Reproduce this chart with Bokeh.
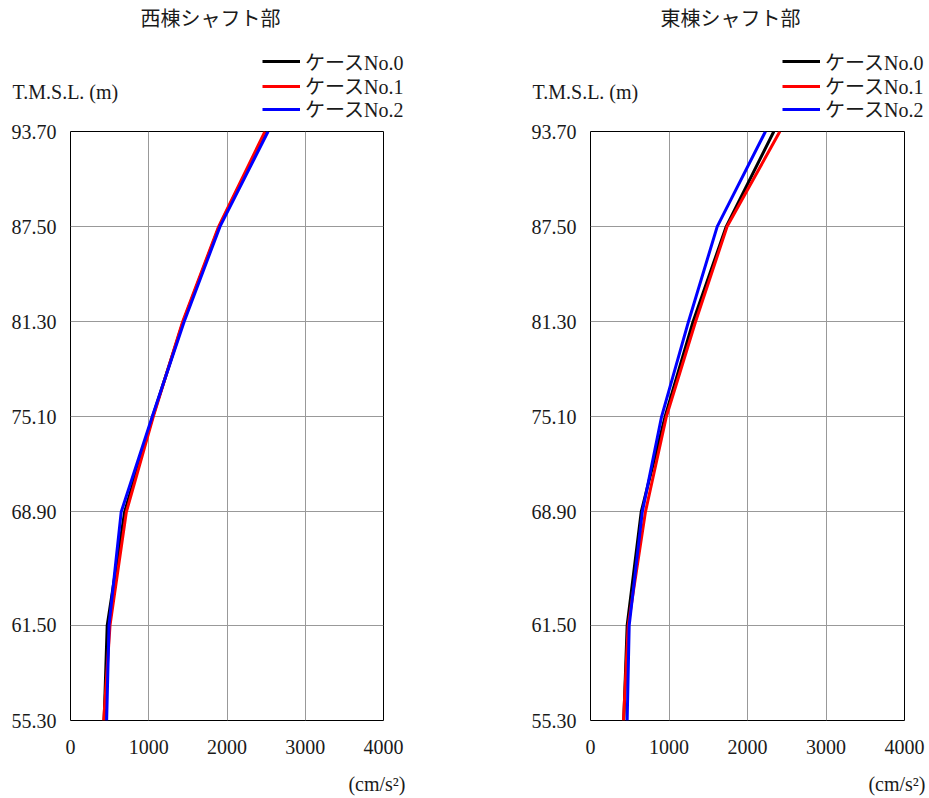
from bokeh.plotting import figure
from bokeh.layouts import row, column
from bokeh.models import (Label, Legend, LegendItem, FixedTicker, Range1d,
                          PrintfTickFormatter)
from bokeh.embed import file_html
from bokeh.resources import INLINE

# ---- data ----
elev = [93.70, 87.50, 81.30, 75.10, 68.90, 61.50, 55.30]
x_ticks = [0, 1000, 2000, 3000, 4000]
case_names = ["ケースNo.0", "ケースNo.1", "ケースNo.2"]
panel_titles = ["西棟シャフト部", "東棟シャフト部"]
y_title = "T.M.S.L. (m)"
x_title = "(cm/s²)"

west_case0 = [2500, 1900, 1440, 1050, 692, 469, 430]
west_case1 = [2485, 1893, 1433, 1057, 714, 505, 424]
west_case2 = [2525, 1910, 1452, 1044, 648, 492, 462]

east_case0 = [2335, 1729, 1306, 950, 646, 467, 424]
east_case1 = [2412, 1740, 1338, 966, 700, 480, 420]
east_case2 = [2229, 1614, 1248, 905, 660, 493, 467]

colors = ["#000000", "#ff0000", "#0000ff"]
FONT = "Liberation Serif, Noto Sans CJK JP"
TXT = "#1a1a1a"
HEADER_H = 120
FOOTER_H = 38
LEGEND_ROWS = [61, 85.5, 108.5]   # page y of legend row centres
ROW_H = 30


def blank(width, height):
    f = figure(width=width, height=height, x_range=Range1d(0, 1), y_range=Range1d(0, 1),
               x_axis_type=None, y_axis_type=None, output_backend="svg",
               toolbar_location=None, min_border_left=0, min_border_right=0,
               min_border_top=0, min_border_bottom=0)
    f.outline_line_color = None
    return f


def make_header(title, series, width, frame_left):
    h = blank(width, HEADER_H)
    for name, vals, c, cy in zip(case_names, series, colors, LEGEND_ROWS):
        # same series as the chart; lies outside this header's view, used for the legend key
        r = h.line(vals, elev, line_color=c, line_width=3)
        legend = Legend(items=[LegendItem(label=name, renderers=[r])],
                        location=(frame_left + 192, HEADER_H - cy - ROW_H / 2),
                        border_line_color=None, background_fill_alpha=0,
                        padding=0, margin=0, spacing=0,
                        label_height=ROW_H, glyph_height=ROW_H, glyph_width=38,
                        label_standoff=5, label_text_font=FONT,
                        label_text_font_size="20px", label_text_color=TXT)
        h.add_layout(legend)
    h.add_layout(Label(x=frame_left + 140, y=HEADER_H - 18, x_units="screen", y_units="screen",
                       text=title, text_align="center", text_baseline="middle",
                       text_font=FONT, text_font_size="20px", text_color=TXT))
    h.add_layout(Label(x=frame_left - 58, y=HEADER_H - 91, x_units="screen", y_units="screen",
                       text=y_title, text_align="left", text_baseline="middle",
                       text_font=FONT, text_font_size="20px", text_color=TXT))
    return h


def make_main(series, width, frame_w, frame_left):
    p = figure(frame_width=frame_w, frame_height=589,
               x_range=Range1d(0, 4000), y_range=Range1d(55.3, 93.7),
               output_backend="svg", toolbar_location=None,
               min_border_left=frame_left, min_border_right=width - frame_left - frame_w,
               min_border_top=131 - HEADER_H, min_border_bottom=40)
    p.xaxis.ticker = FixedTicker(ticks=x_ticks)
    p.yaxis.ticker = FixedTicker(ticks=elev)
    p.yaxis.formatter = PrintfTickFormatter(format="%.2f")
    for ax in (p.xaxis, p.yaxis):
        ax.major_tick_line_color = None
        ax.minor_tick_line_color = None
        ax.axis_line_color = None
        ax.major_label_text_font = FONT
        ax.major_label_text_font_size = "20px"
        ax.major_label_text_color = TXT
    p.xaxis.major_label_standoff = 13
    p.yaxis.major_label_standoff = 8
    p.grid.grid_line_color = "#999999"
    p.grid.grid_line_width = 1
    p.outline_line_color = "#000000"
    p.outline_line_width = 1
    for vals, c in zip(series, colors):
        p.line(vals, elev, line_color=c, line_width=3)
    return p


def make_footer(width, frame_left):
    f = blank(width, FOOTER_H)
    f.add_layout(Label(x=frame_left + 335, y=FOOTER_H - 23, x_units="screen", y_units="screen",
                       text=x_title, text_align="right", text_baseline="middle",
                       text_font=FONT, text_font_size="20px", text_color=TXT))
    return f


west = [west_case0, west_case1, west_case2]
east = [east_case0, east_case1, east_case2]
W1, W2 = 468, 461
h1 = make_header(panel_titles[0], west, W1, 70)
h2 = make_header(panel_titles[1], east, W2, 122)
p1 = make_main(west, W1, 313, 70)
p2 = make_main(east, W2, 314, 122)
f1 = make_footer(W1, 70)
f2 = make_footer(W2, 122)

layout = column(row(h1, h2, spacing=0), row(p1, p2, spacing=0), row(f1, f2, spacing=0),
                spacing=0)
open("out.html", "w").write(file_html(layout, INLINE))
